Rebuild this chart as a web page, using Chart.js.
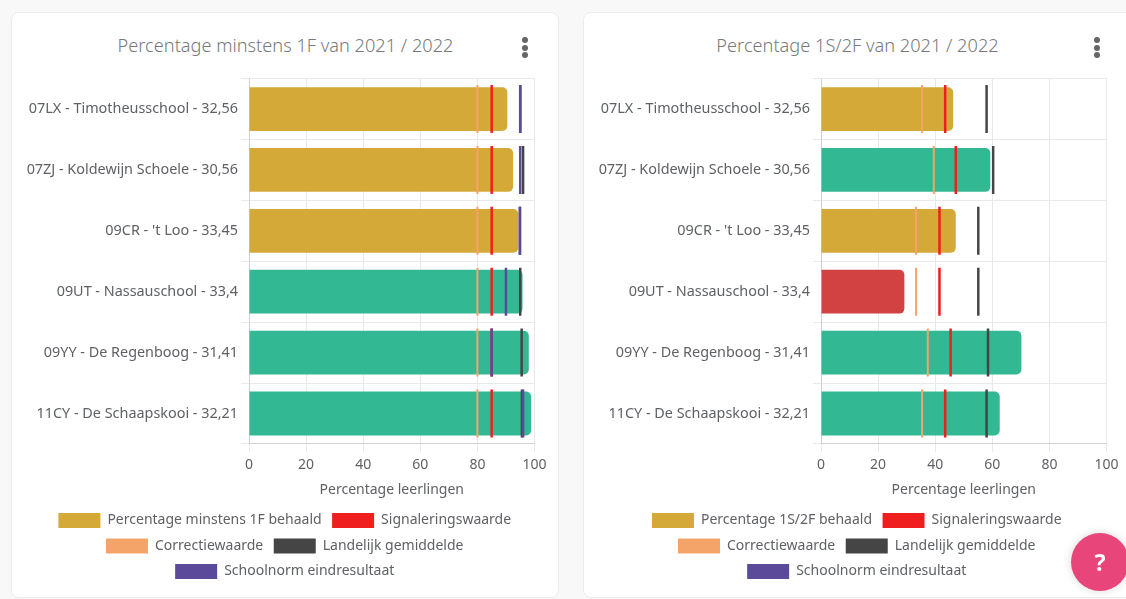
<!DOCTYPE html>
<html>
<head>
<meta charset="utf-8">
<script src="https://cdn.jsdelivr.net/npm/chart.js@4"></script>
<style>
  html, body { margin: 0; height: 100%; overflow: hidden; background: #f8f8f9; font-family: 'Noto Sans', sans-serif; }
  .card { position: absolute; top: 12px; width: 548px; height: 586px; background: #fff; border: 1px solid #ececee; border-radius: 8px; box-sizing: border-box; }
  .card h3 { position: absolute; top: 18px; left: 0; width: 547px; margin: 0; text-align: center; font-weight: 300; font-size: 18.2px; line-height: 28px; color: #77797c; }
  .menu { position: absolute; top: 24px; }
  .menu i { display: block; width: 6px; height: 6px; margin-bottom: 1.5px; border-radius: 50%; background: #666; }
  .chart-wrapper { position: absolute; left: -1px; top: 54px; width: 548px; height: 522px; }
  .help { position: absolute; left: 1071px; top: 533px; width: 58px; height: 58px; border-radius: 50%; background: #e8457a; box-shadow: 0 0 10px rgba(0,0,0,.15); color: #fff; font-weight: 700; font-size: 23px; line-height: 58px; text-align: center; }
</style>
</head>
<body>
<div class="card" style="left:11px">
  <h3>Percentage minstens 1F van 2021 / 2022</h3>
  <div class="menu" style="left:510px"><i></i><i></i><i></i></div>
  <div class="chart-wrapper"><canvas id="chartLeft" width="548" height="522"></canvas></div>
</div>
<div class="card" style="left:583px;width:560px">
  <h3>Percentage 1S/2F van 2021 / 2022</h3>
  <div class="menu" style="left:510px"><i></i><i></i><i></i></div>
  <div class="chart-wrapper"><canvas id="chartRight" width="548" height="522"></canvas></div>
</div>
<div class="help">?</div>
<script>
const schools = ['07LX - Timotheusschool - 32,56', '07ZJ - Koldewijn Schoele - 30,56', "09CR - 't Loo - 33,45", '09UT - Nassauschool - 33,4', '09YY - De Regenboog - 31,41', '11CY - De Schaapskooi - 32,21'];

const left1F = [90.5, 92.5, 94.3, 95.8, 98, 98.8];
const leftColors = ['#d4a938', '#d4a938', '#d4a938', '#33b894', '#33b894', '#33b894'];
const leftSignal = [85, 85, 85, 85, 85, 85];
const leftCorrectie = [80, 80, 80, 80, 80, 80];
const leftLandelijk = [95, 96, 94.9, 95, 95.5, 95.6];
const leftSchoolnorm = [95, 95, 94.9, 90, 85, 96];

const right2F = [46.3, 59.3, 47.2, 29.2, 70.2, 62.6];
const rightColors = ['#d4a938', '#33b894', '#d4a938', '#d34242', '#33b894', '#33b894'];
const rightSignal = [43.5, 47.2, 41.5, 41.5, 45.4, 43.5];
const rightCorrectie = [35.4, 39.5, 33.3, 33.3, 37.4, 35.4];
const rightLandelijk = [58, 60.3, 55.1, 55.1, 58.5, 58];
const rightSchoolnorm = [null, null, null, null, null, null];

const FONT = "'Noto Sans', sans-serif";
const TEXT = '#5f6165';
const GRID = '#e9e9ec';

// one vertical tick per school, drawn as a rotated line point
function marker(label, data, color, width, order) {
  return {
    type: 'line', label, data, order,
    showLine: false,
    pointStyle: 'line',
    rotation: 90,
    pointRadius: 24,
    pointHoverRadius: 24,
    pointBorderWidth: width,
    pointBorderColor: color,
    borderColor: color,
    backgroundColor: color,
  };
}

// right padding pulls the legend off the card centre, so push it back
const legendShift = {
  id: 'legendShift',
  afterLayout(chart) {
    chart.legend.left += 12;
    chart.legend.right += 12;
  }
};

function drawChart(id, barLabel, values, colors, signal, correctie, landelijk, schoolnorm) {
  return new Chart(document.getElementById(id), {
    type: 'bar',
    plugins: [legendShift],
    data: {
      labels: schools,
      datasets: [
        { label: barLabel, data: values, order: 9, backgroundColor: colors, borderRadius: 5, barPercentage: 0.72, categoryPercentage: 1 },
        marker('Signaleringswaarde', signal, '#ef1f1f', 2.5, 3),
        marker('Correctiewaarde', correctie, '#f4a469', 2, 4),
        marker('Landelijk gemiddelde', landelijk, '#454545', 2.5, 2),
        marker('Schoolnorm eindresultaat', schoolnorm, '#5b4a99', 2.5, 1),
      ]
    },
    options: {
      indexAxis: 'y',
      responsive: false,
      animation: false,
      layout: { autoPadding: false, padding: { top: 3, left: 0, right: 24.5, bottom: 0 } },
      scales: {
        x: {
          min: 0, max: 100,
          grid: { color: GRID },
          ticks: { stepSize: 20, padding: 5, color: TEXT, maxRotation: 0, font: { family: FONT, size: 14 } },
          title: { display: true, text: 'Percentage leerlingen', color: TEXT, font: { family: FONT, size: 14 }, padding: { top: 3, bottom: 4 } },
        },
        y: {
          grid: { color: GRID },
          ticks: { color: TEXT, padding: 3, font: { family: FONT, size: 14.4 } },
          afterFit: scale => { scale.width = 238; },
        }
      },
      plugins: {
        legend: {
          position: 'bottom',
          labels: {
            color: TEXT,
            boxWidth: 42,
            boxHeight: 15,
            padding: 10.5,
            font: { family: FONT, size: 14 },
            generateLabels: chart => chart.data.datasets.map((ds, i) => ({
              text: ds.label,
              fillStyle: i === 0 ? '#d4a938' : ds.backgroundColor,
              strokeStyle: 'transparent',
              lineWidth: 0,
              fontColor: TEXT,
              datasetIndex: i,
            })),
          }
        },
        tooltip: { enabled: false }
      }
    }
  });
}

drawChart('chartLeft', 'Percentage minstens 1F behaald', left1F, leftColors, leftSignal, leftCorrectie, leftLandelijk, leftSchoolnorm);
drawChart('chartRight', 'Percentage 1S/2F behaald', right2F, rightColors, rightSignal, rightCorrectie, rightLandelijk, rightSchoolnorm);
</script>
</body>
</html>
